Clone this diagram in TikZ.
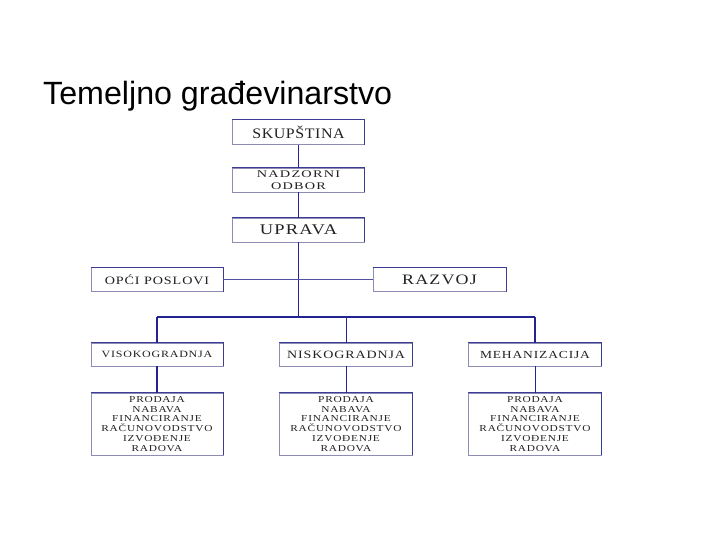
\documentclass[tikz,border=0pt]{standalone}
\usepackage{fontspec}
\setmainfont{Liberation Serif}
\newfontfamily\titlefont{Liberation Sans}
\newfontfamily\boxfont[FakeStretch=1.1,LetterSpace=4]{Liberation Serif}
\newfontfamily\boxfontm[FakeStretch=1.25,LetterSpace=8]{Liberation Serif}
\newfontfamily\boxfontw[FakeStretch=1.4,LetterSpace=12]{Liberation Serif}
\definecolor{linec}{HTML}{24248E}
\definecolor{boxc}{HTML}{8C8CB4}
\definecolor{boxdark}{HTML}{3C3C96}
\definecolor{txtc}{HTML}{222222}
\tikzset{
  orgbox/.style={draw=boxc, line width=0.7pt, fill=white, inner sep=0pt,
    minimum width=132pt, text=txtc, align=center, font=\boxfont},
  funcbox/.style={orgbox, minimum height=62pt, font=\boxfontm\fontsize{9.1}{9.9}\selectfont},
  conn/.style={draw=linec, line width=1.3pt},
  darkedge/.style={draw=boxdark, line width=0.9pt}
}
\begin{document}
\begin{tikzpicture}[x=1pt,y=-1pt]
\useasboundingbox (0,0) rectangle (720,540);
\fill[white] (0,0) rectangle (720,540);

\node[anchor=base west, font=\titlefont\fontsize{32.2}{38}\selectfont, text=black, inner sep=0pt] (title) at (43,105) {Temeljno građevinarstvo};

% top column
\node[orgbox, minimum height=25pt, font=\boxfont\fontsize{14.5}{16}\selectfont] (sk) at (298.5,132) {SKUPŠTINA};
\node[orgbox, minimum height=24pt, font=\boxfontw\fontsize{10.2}{11.5}\selectfont] (nad) at (298.5,180) {NADZORNI\\ODBOR};
\node[orgbox, minimum height=24pt, font=\boxfontm\fontsize{14.8}{16}\selectfont] (up) at (298.5,230) {UPRAVA};

% staff
\node[orgbox, minimum height=24pt, font=\boxfontm\fontsize{11.3}{13}\selectfont] (opc) at (157,279.5) {OPĆI POSLOVI};
\node[orgbox, minimum width=133pt, minimum height=24pt, font=\boxfontm\fontsize{14.4}{16}\selectfont] (raz) at (439.5,279.5) {RAZVOJ};

% divisions
\node[orgbox, minimum height=23pt, font=\boxfontm\fontsize{9.6}{11}\selectfont] (vis) at (157,354.5) {VISOKOGRADNJA};
\node[orgbox, minimum width=133pt, minimum height=23pt, font=\boxfontm\fontsize{11.2}{13}\selectfont] (nis) at (346,354.5) {NISKOGRADNJA};
\node[orgbox, minimum width=133pt, minimum height=23pt, font=\boxfontm\fontsize{10.8}{12}\selectfont] (meh) at (535,354.5) {MEHANIZACIJA};

% functions
\node[funcbox] (p1) at (157,424) {PRODAJA\\NABAVA\\FINANCIRANJE\\RAČUNOVODSTVO\\IZVOĐENJE\\RADOVA};
\node[funcbox, minimum width=133pt] (p2) at (346,424) {PRODAJA\\NABAVA\\FINANCIRANJE\\RAČUNOVODSTVO\\IZVOĐENJE\\RADOVA};
\node[funcbox, minimum width=133pt] (p3) at (535,424) {PRODAJA\\NABAVA\\FINANCIRANJE\\RAČUNOVODSTVO\\IZVOĐENJE\\RADOVA};

% darker top/right edges
\foreach \n in {sk,nad,up,opc,raz,vis,nis,meh,p1,p2,p3}{
  \draw[darkedge] (\n.north west) -- (\n.north east) -- (\n.south east);
}

% connectors
\coordinate (busc) at (298.5,317);
\coordinate (busl) at (157,317);
\coordinate (busm) at (346,317);
\coordinate (busr) at (535,317);

\draw[conn] (sk.south) -- (nad.north);
\draw[conn] (nad.south) -- (up.north);
\draw[conn] (up.south) -- (busc);
\draw[conn, line width=0.9pt, draw=linec!80] (opc.east) -- (raz.west);
\draw[conn] (busl) -- (busr);
\draw[conn] (busl) -- (vis.north);
\draw[conn, line width=0.9pt] (busm) -- (nis.north);
\draw[conn] (busr) -- (meh.north);
\draw[conn] (vis.south) -- (p1.north);
\draw[conn, line width=0.9pt] (nis.south) -- (p2.north);
\draw[conn, line width=0.9pt] (meh.south) -- (p3.north);
\end{tikzpicture}
\end{document}
